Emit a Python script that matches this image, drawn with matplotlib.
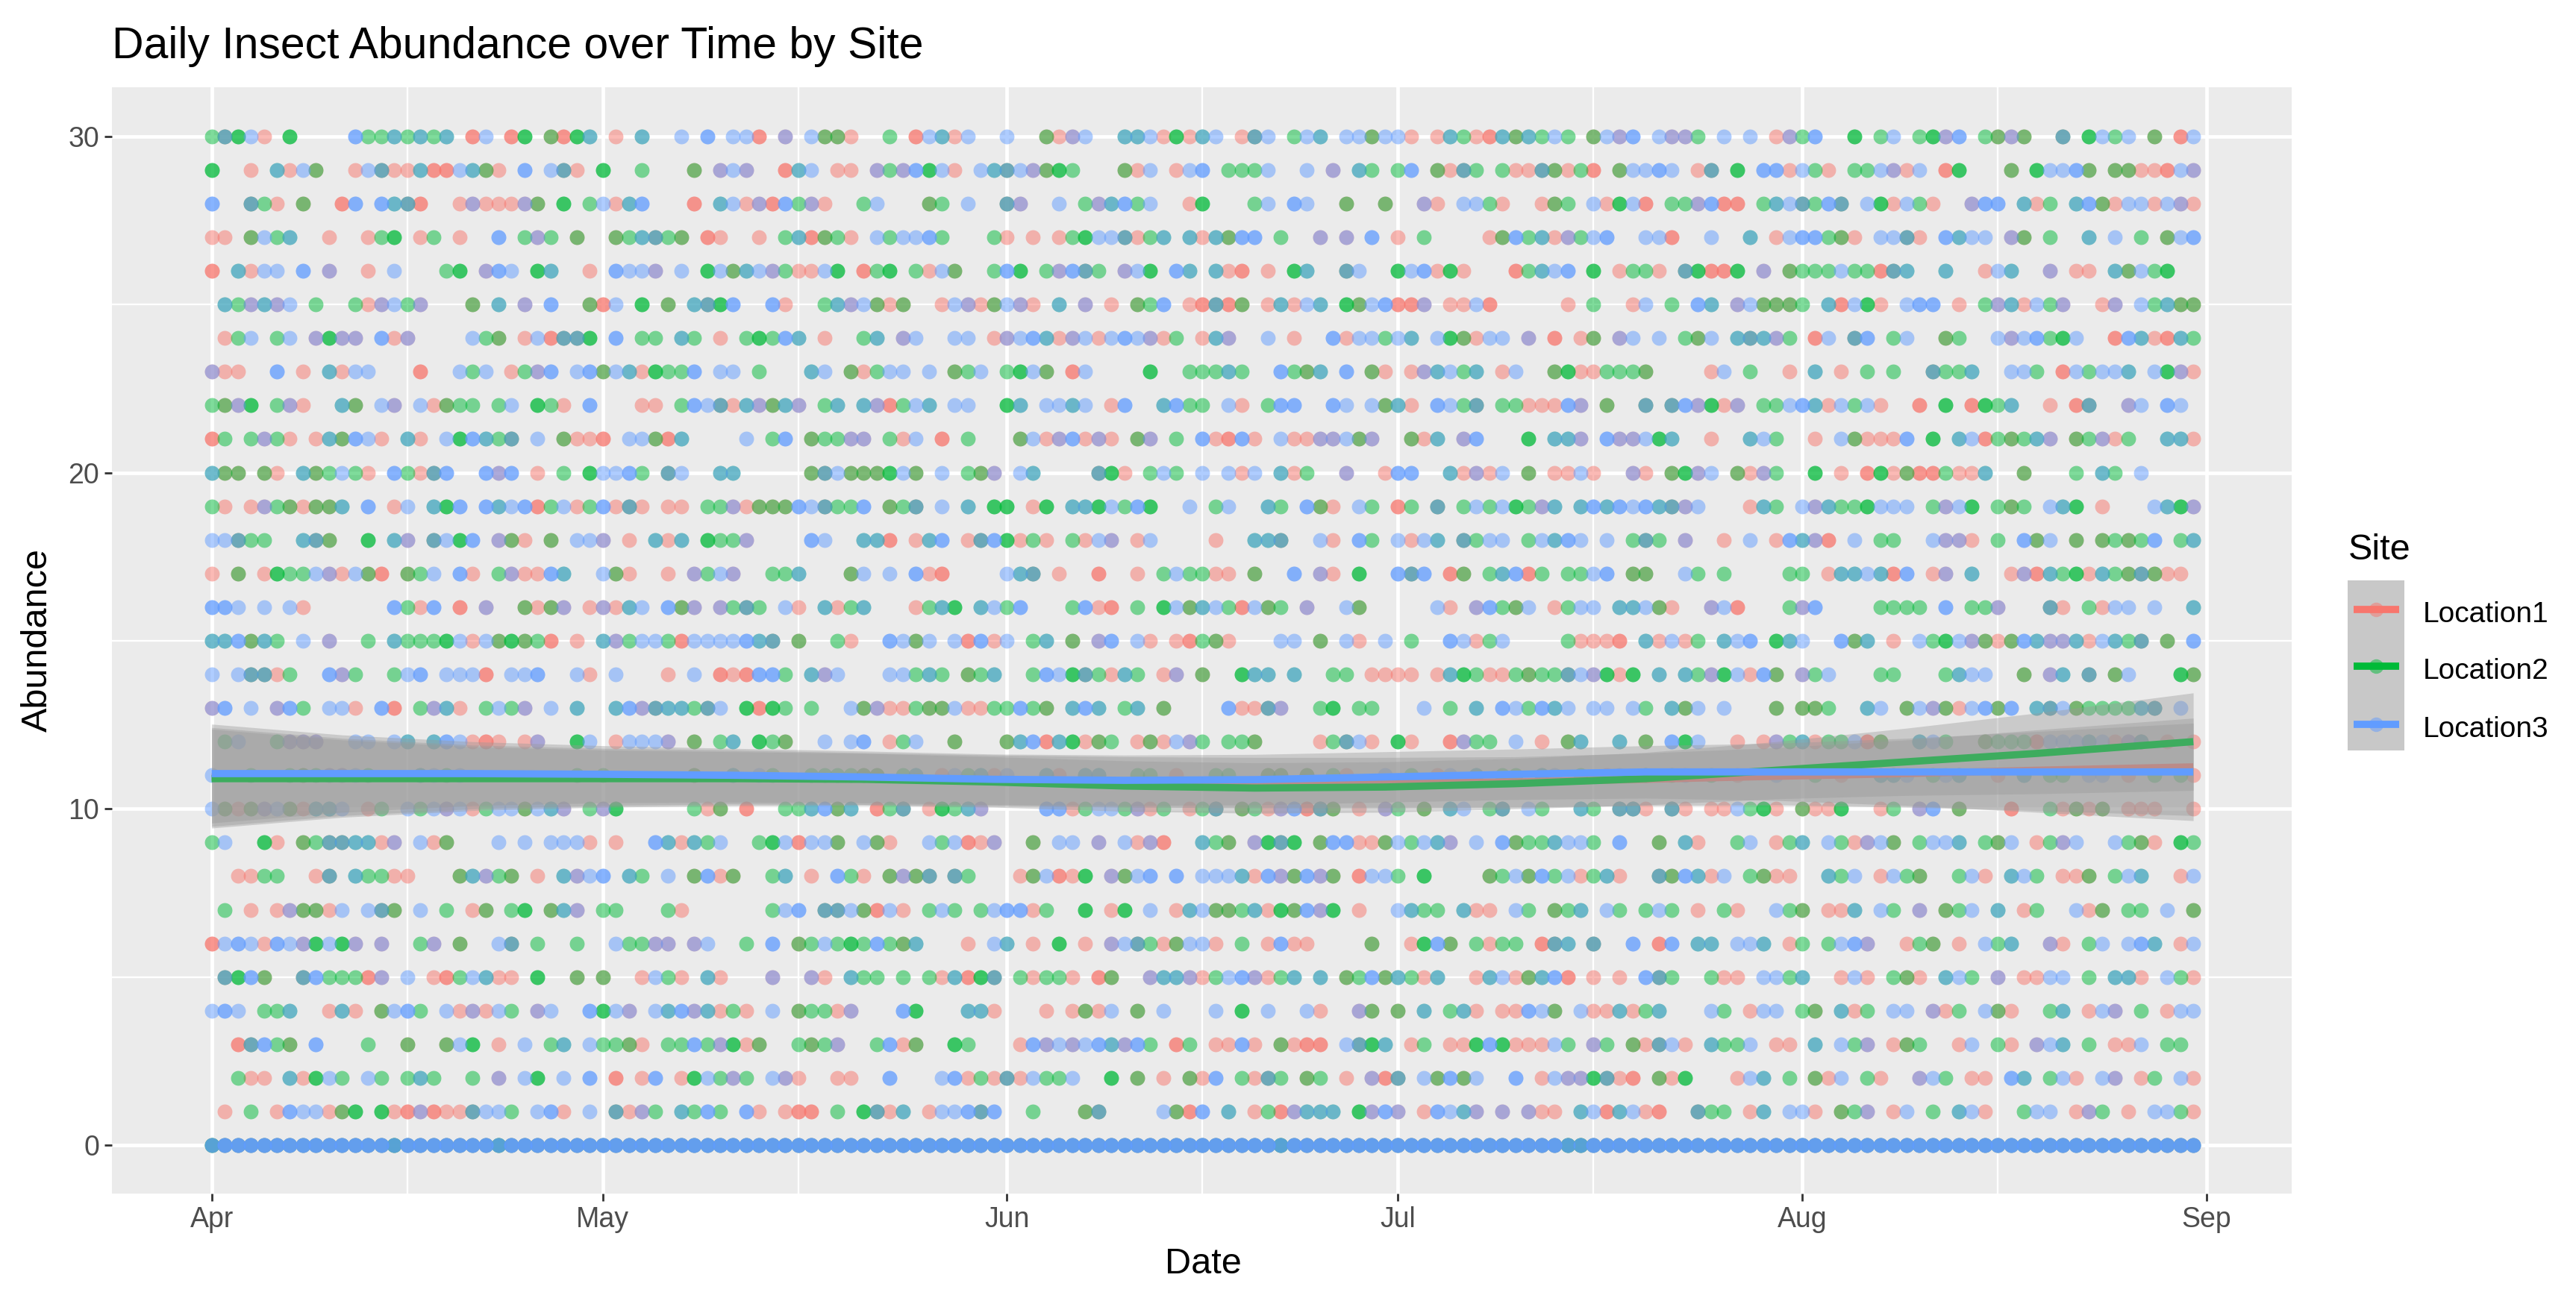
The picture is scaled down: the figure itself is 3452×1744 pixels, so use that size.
#!/usr/bin/python
import matplotlib
matplotlib.use("Agg")
import matplotlib.dates as mdates
import matplotlib.pyplot as plt
import numpy as np
from matplotlib.lines import Line2D
from matplotlib.patches import Rectangle

# sites, colours
sites = ["Location1", "Location2", "Location3"]
site_colors = ["#F8766D", "#00BA38", "#619CFF"]

# each row is one abundance level, split in four stretches of days (first day in seg_start)
# r g b one site, p r+b, o r+g, t g+b, a all three, R G B same site twice, z y the zero pile
seg_start = [0, 39, 77, 116]
row_30 = ["gaGbr.G....Bggtgtgt.Rb.RG.oRGt.r.t..b.B", ".bbR.p.boor..g.Rbtrb..b..orpb..ttbrGrt", "b.rab.gbt.bbobbr.rtgrRtotgbg.obpB.bppg.", "b.b.rpgB..G.gb.gGpB.gopo..a.Gbgb.o.Rb"]
row_29 = ["G..r.trbo..rbarrtRRbtor.B.bar.G..g...o.", "pbp..Rtb.rr.pgpBGbr.btabpoGg...orb.rbB", ".gggb..b.p.tg.gB.orag.grraorgR.obbBb.ra", ".G.BBrbgr.ggbprb.RG...o.GbbBo.oorrRbp"]
row_28 = ["B..agr.o..RB.BtaR..rprrrpo.G.gbrtB...R.", "tbrpRBgpr..gb...og.b..ap..b.gptBgb..rG", "...gb.Bb..o..o..pr.bbgr..rog.brGbR.ggpB", "RR.gtbagBa.bGrbgr..pBB.trg.tBorbbrbpr"]
row_27 = ["rr.obgt..r..rgG.rg.r..B.gpg.o..ogtago.R", "r..r.gtRogr.bgbbBg...gr.r.rgGbbargt.tr", "toBB.g..p.p.B.r.g....roBgtrpgbB..bbR..b", "..t.rbBBgor.bbar.Btbb.po.g..t.b.g.obB"]
row_26 = ["R.trbb.B.p..r.b...gG.pBb.Gt..r.Bbbp.b.G", "botbpgrrbG.RgG.grbo..gBG.gpBag.pbG.Bt.", "trR.r.Gt..ab..GbBrGr...RgtbB.G.rggr.aGR", "RG.p.ogggbggRat..t..rbt..p.rr.tobgG.."]
row_25 = [".tgptpb.g..grpbgp...o.t.p.B..oRb.G.o.ta", "GB..Br..gtpboro..rbprobpr.t.p.r.ogB.rR", "aRo.rtrbt.GobBRRp.rrbR.....r.g..rb.g.Bt", ".pbooog.tRbGr.bBB.r.gptrbgp..rp.bgtoo"]
row_24 = [".rgb.gb.pGpp.Brp....bgo.rbRaaG.B.gg.tg.", "r.gGgBt.r..gt.pb..bb.rpbBtrpbrbBbprg.r", "tp..b.r..Brbbgbt.bGorbb.p.R.ro.pb.b.gob", ".tatpg.Rb.aB.gb..og..bpbBgGb..RBtrRtg"]
row_23 = ["prr..B.r.trbb...R..bgb.rgpB.bBobtrGggB.", "bb.g...tb.orgbb.b.ogb.gGbo.Rb....G..gg", "gtg..Bgot.B.or.rptbgt.rb..oGrrgggo....r", "b.g..r.t.r.g.g..aggt..bbg.Rbgbbt.bGpr"]
row_22 = ["gopG.gpr..to.bp.brogg.gb.Ggr.B...rr.gBb", "artpotp.gt.tpRgbt.bb..Gt.bbtb.rB..tBgg", ".br.gBB..Bb.botr.Bbga.ggrrrBp.o..a.aBpG", "rp.ggbBtrbgbr..R.G.RGgt..r.Ra..pb.Bb."]
row_21 = ["Rg.gpgr.rtoBbr.tr.bGBtga.b.orrR.bboRt..", "..b.gB.oggpp.grb.R.g...obrpBrpr.op.g.B", "rRBr.brrppbop..ort.pB...G.ttp.BppbGt..r", "..tbg..r.borrrB.G.tbRgogtp.ogprg..ttr"]
row_20 = ["too.or.togbgr.BgraB..BpB.r.g.GbbBg.ab..", "tt.....oaboooGbo.b.gop.bt....aGr.gbg.b", ".brb.trg..p..rBB..trprb.o.rrbr..pr.oGpb", ".orpg..G.r.RGroRRgrrt..o...g.tg.b...."]
row_19 = ["gr.rpgoroot.B.rb.tGB.BtbBRgbrgBrar.rr.g", "gproooBbaggB.oga.b.t.GG.rG.ttGbgBG..b.", "gb..tg.Bor.bg.Rg.a.gbgbGgpt.tBtBbBtapb.", "..rtg.bptggGbbb.gpbG.gog.btG.r...btGp"]
row_18 = ["bbagg..tao..G.tp.abGB.por.o.bbp.r.trt.G", "ggp....Bb..ttR.rtB.raBGrgr.grbp.rb....", "r..tta..br.Bg.brbt.agbb.gbtBb.b.gag.p..", "r.b.rBtpR.b.gg..bppr.g.Bob.o.ogogB.gt"]
row_17 = ["r.o.rGggbprboR.ogb.Br.gprrBt..bor..r.pg", "bp..ggt...ob.b.BrR....bta.r..R..r.gbgg", "rr.o..B.pr.G..BaB.Ro.gtBRg.ggbB.oo..bg.", "g....gg.rttbtRB.rp.t..rpRtgGrtgoaorr."]
row_16 = ["BBb.b.br......BgrB.R.p..orop.rprtb.Bop.", "pgag.br.trgt...rgtG.tbgB...gBrR.g.Gbot", "bgRbog.p..bo.....br.pBgob.rgbb.ttbor..p", "bR...gpB....gggg.B.ggp...ar.grbb.b..t"]
row_15 = ["ttBotg.b.p..g.tgggGbrboGogR.r.tpgbbgRbb", "bbBta.o..gr..Bbob.bRBrb.gt.o.pB.br.rRg", "or...bb.o.br.b.g..Bbrgb....grrrR.trbrg.", "tbB.Gtb..Bot.r.bgGbporoBtpptrbtga.o.B"]
row_14 = ["b.baarg..Bpg..gbB.bbbR.bbB..br.b...r.b.", "RrRBBg.tpb...bbgtg.ogt..gBbGagrtg.rp.o", "..Gtt.t..gg.rrrr.rtGgrrgoggabpGrG.t.tgp", "GbrBo.pgb...gg...gtbb..o.pt.a.ob...Go"]
row_13 = ["pB.b.pBg.bbr.BR.gptr.gbgp.b.t..tBpattga", "b.GRGg.g..boprrgoobrrggBgo.tBt.gt.o...", ".Brrap..gG.gg...b.g.t.BbgBtb.bb.bg.tob.", "b...o.oog..tb.obporbBoB.tabogggg" + "ta.b."]
row_12 = [".gb..gppp..bb.bt.tBbrRr.rp..Gb.rbbbp.o.", "gt.Ggo..b.bB.rgb..o...otBRtGrog.rorbpg", ".ggo....rgabr.Gr..Rpgg.b.r.ot..t.o.BGb.", ".r.rpgtrggbRo..tbg..ogggRbbbtbrpa.r.r"]
row_11 = ["b..g..gogppbg...tbgb........g.g......o.", ".t.bg..ggggoo.gt.rbgtrb..tr.tt..gg.r..", "gg..oo.o.gr..b.g.rb.t.gg.tb.g.rb.t.gb.g", ".r..b..g.r..ttb.gbt..r.t.gg.bb.r.g.gr"]
row_10 = ["boropbortt" + "b.rg.bgbpbrgbbobtp.gpG.....gr", "o.R..ggtBot.Rga.rGgtp....BBrgbbgprg.rg", "a.ogrpBRao.r.pg.o.tb.ga.bg..tg.aar.ar.r", "rbgGr.orrG..rg.pB.o...R..groro.rrr..r"]
row_9 = ["gb..Gr.ogaattrp.bro...b.b.bbbr.r..Btrtg", "b..gGbRbbo.bor..bgbRrp..o.bb.p.brpR..t", "go.pGaG.oBBrrobgbtp.b.Boggtbbg.B..o.tr.", ".gb.rgt.bgrpbo.gbbt.gob.rgpb..bgor.Gg"]
row_8 = ["..rrgg..ra.tggrr...otpgo.r.tpbB.tg.b.oB", "ro..gt.r.Bgr.opoa.ag...robRrG.pobB.B.b", "bbtrBpoBpo.Rbbg.G....ogboBgbrgtr..aoBtr", "b.gorr..tgb.rbgo..gbr.tbg.rro.gbt..rb"]
row_7 = [".g.r.rpoorb.bao.b.g.ro.gG.otp.gg...gr..", "....gbB.aaboRbr.gbg.gbBBrg..G.rG.b.rtb", "oogtrGoBpG.r..btgg.trr.bg.ogt.bg.gbg.r.", "gr..bgo.rrt.bg.p.ogb.t.rg..bro.gg.b.o"]
row_6 = ["RbBbrBbpGbGp.p..gp.o..ba.g..g..bggpp.pb", "..g.B.ogbgGgBgot...r.bt.r.G.r.pbagrobb", "r.g.rBrr....o..rGBo.grgg.Rat.a..B.RB.tt", ".bbt.rg.gbBp..rgo.r.bgt..pr.gb.bBt.rb"]
row_5 = [".aGBo..aBgggRp.b.rRgbtrr.G..o.o..rbgr.t", "r...p..pr.tgg.g.grtRGa.grggr.Ro..pttpr", "gbBprgt.t.ogBotgrt..rtbrotBR.r.r.Bag..g", "rr.bbgt..rbr.gor.tbg.p.rrbb.g.ttr.bgr"]
row_4 = ["bBb.ggt..rtr.obBg.brprbg.pb..BGbp.btBpt", "rgr.b.oggrp...BG...ttr...r.rorb.o.b...", "b.G.b..br..po.o.t.gtr.rrBbo.brrtrgt...b", "g.rbb.go.trg.bb.prg.bor..gt.rbp.g.rbb"]
row_3 = ["..RaBgo.B...g..o..obG.r.b.gt.bggor.ggBg", "pGro..gogp..gBro..Gg...rBpbpbBtpBg.Rg.", "rrBr.orRR.baGt.rg.rrGBGrrrbg.pg.orabr.t", "ggb.rr.t.bgp.rog..rb.gr.pbt.g.rrb.gg."]
row_2 = ["..grr.trGbg.bg.gtg..g.p.bG.b.B.R.rB.rGb", "gpg.bpr..rr..B...bBrgrarbggb..G.o.r.or", "B.grag.og.r.pRa.boBob..B.rbppGarR.orG..", ".rbt.g.orb.gr..pbg.rr.Bt.gbr.bp.rg.br"]
row_1 = [".r.g.rBbbroG.GrRpRrrabbg.bBr.b.arpg.tgB", "g.Br.rRR.g.Gart.rbbBaB..g...oa....boRB", ".t.rgRpttt.GpBp.rBbtp.p.prr.tbRtbrR..ag", "g.rt.bbr.ogp.rb.g.tbr..gbb.rpg.r.bbgr"]
row_0 = ["yzzzzzzzzzzzzzyzzzzzzzyzzzzzzzzzzzzzzzz", "zzzzzzzzzzzzzzzzzzzzzzzzzzzzzzzzzzzzzz", "zzzzzyzzzzzzzzzzzzzzzzzzzzzyyzzzzzzzzzz", "zzzzzzzzzzzzzzzzzzzzzzzzzzzzzzzzzzzzz"]
rows = [row_0, row_1, row_2, row_3, row_4, row_5, row_6, row_7, row_8, row_9, row_10,
        row_11, row_12, row_13, row_14, row_15, row_16, row_17, row_18, row_19, row_20,
        row_21, row_22, row_23, row_24, row_25, row_26, row_27, row_28, row_29, row_30]
code_sites = {"r": [0], "g": [1], "b": [2], "p": [0, 2], "o": [0, 1], "t": [1, 2], "a": [0, 1, 2],
              "R": [0, 0], "G": [1, 1], "B": [2, 2], "z": [0, 1, 2, 2, 2], "y": [0, 1, 1, 2, 2]}

# smooth lines and their ribbons
smooth_days = [0, 10, 20, 30, 40, 50, 60, 70, 80, 90, 100, 110, 120, 130, 140, 152]
smooth_r = [10.95, 10.95, 10.95, 10.95, 10.95, 10.9, 10.85, 10.8, 10.78, 10.78, 10.8, 10.88, 10.97, 11.05, 11.15, 11.25]
smooth_g = [10.9, 10.9, 10.9, 10.9, 10.9, 10.88, 10.8, 10.68, 10.62, 10.65, 10.75, 10.9, 11.15, 11.4, 11.65, 12.0]
smooth_b = [11.05, 11.05, 11.05, 11.03, 11.0, 10.95, 10.88, 10.85, 10.87, 10.95, 11.03, 11.1, 11.1, 11.1, 11.1, 11.1]
se_width = [1.47, 1.15, 0.95, 0.85, 0.8, 0.77, 0.75, 0.75, 0.75, 0.75, 0.75, 0.78, 0.85, 1.0, 1.2, 1.45]

W, H = 3452, 1744
fig = plt.figure(figsize=(W / 100, H / 100), dpi=100, facecolor="white")
plt.rcParams["font.family"] = ["Liberation Sans", "DejaVu Sans"]


def fx(px):
    return px / W


def fy(py):
    return 1 - py / H


ax = fig.add_axes([fx(150), fy(1600), fx(3071 - 150), (1600 - 117) / H])
ax.set_facecolor("#EBEBEB")
for s in ax.spines.values():
    s.set_visible(False)

day0 = mdates.date2num(np.datetime64("2023-04-01"))
xs = [[], [], []]
ys = [[], [], []]
for level, row in enumerate(rows):
    for start, seg in zip(seg_start, row):
        for i, c in enumerate(seg):
            if c == ".":
                continue
            for k in code_sites[c]:
                xs[k].append(day0 + start + i)
                ys[k].append(level)

for k in range(3):
    ax.scatter(xs[k], ys[k], s=205, color=site_colors[k], alpha=0.5, linewidths=0, zorder=3)

sd = day0 + np.array(smooth_days)
for k, line in enumerate([smooth_r, smooth_g, smooth_b]):
    line = np.array(line)
    w = np.array(se_width)
    ax.fill_between(sd, line - w, line + w, color="#999999", alpha=0.4, linewidth=0, zorder=4 + k)
    ax.plot(sd, line, color=site_colors[k], lw=7, zorder=4 + k, solid_capstyle="butt")

ax.set_xlim(day0 - 7.65, day0 + 159.55)
ax.set_ylim(-1.44, 31.46)

major = mdates.date2num(np.array(["2023-04-01", "2023-05-01", "2023-06-01", "2023-07-01", "2023-08-01", "2023-09-01"], dtype="datetime64[D]"))
minor = mdates.date2num(np.array(["2023-04-16", "2023-05-16", "2023-06-16", "2023-07-16", "2023-08-16"], dtype="datetime64[D]"))
ax.set_xticks(major)
ax.set_xticks(minor, minor=True)
ax.set_xticklabels(["Apr", "May", "Jun", "Jul", "Aug", "Sep"])
ax.set_yticks([0, 10, 20, 30])
ax.set_yticks([5, 15, 25], minor=True)
ax.grid(True, which="major", color="white", lw=3.4, zorder=1)
ax.grid(True, which="minor", color="white", lw=1.7, zorder=1)
ax.set_axisbelow(True)
ax.tick_params(which="minor", length=0)
ax.tick_params(which="major", length=7, width=2, color="#333333", labelcolor="#4D4D4D", labelsize=27, pad=5)

fig.text(fx(150), fy(62), "Daily Insect Abundance over Time by Site", fontsize=42.4, va="center", ha="left", color="black")
fig.text(fx(1612), fy(1694), "Date", fontsize=35, va="center", ha="center", color="black")
fig.text(fx(50), fy(858), "Abundance", fontsize=35, va="center", ha="center", rotation=90, color="black")

# legend by hand, keys stay as one grey strip like the picture
fig.text(fx(3147), fy(737), "Site", fontsize=35, va="center", ha="left", color="black")
fig.add_artist(Rectangle((fx(3146), fy(1006)), 76 / W, 228 / H, transform=fig.transFigure, facecolor="#C8C8C8", edgecolor="none"))
for k, (name, yp) in enumerate(zip(sites, [817, 893, 971])):
    fig.add_artist(Line2D([fx(3154), fx(3215)], [fy(yp), fy(yp)], transform=fig.transFigure, color=site_colors[k], lw=7, solid_capstyle="butt"))
    fig.add_artist(Line2D([fx(3184)], [fy(yp)], transform=fig.transFigure, marker="o", ms=14, color=site_colors[k], alpha=0.5, mew=0))
    fig.text(fx(3247), fy(yp + 7), name, fontsize=28, va="center", ha="left", color="black")

fig.savefig("out.png", dpi=100)
